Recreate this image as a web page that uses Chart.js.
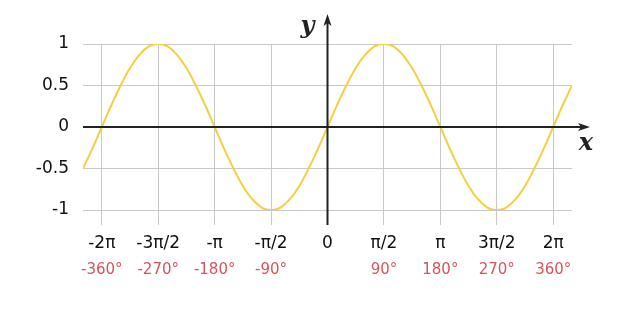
<!DOCTYPE html>
<html>
<head>
<meta charset="utf-8">
<script src="https://cdn.jsdelivr.net/npm/chart.js@4"></script>
<style>
  html, body { margin:0; padding:0; background:#fff; }
  #wrap { width:640px; height:316px; }
</style>
</head>
<body>
<div id="wrap"><canvas id="sineChart"></canvas></div>
<script>
// angle in degrees, every 15°
const angles = [
  -390,-375,-360,-345,-330,-315,-300,-285,-270,-255,-240,-225,-210,-195,
  -180,-165,-150,-135,-120,-105,-90,-75,-60,-45,-30,-15,
  0,15,30,45,60,75,90,105,120,135,150,165,180,195,210,225,240,255,270,
  285,300,315,330,345,360,375,390
];

// curve height
const sineValues = [
  -0.5,-0.26,0,0.26,0.5,0.71,0.87,0.97,1,0.97,0.87,0.71,0.5,0.26,
  0,-0.26,-0.5,-0.71,-0.87,-0.97,-1,-0.97,-0.87,-0.71,-0.5,-0.26,
  0,0.26,0.5,0.71,0.87,0.97,1,0.97,0.87,0.71,0.5,0.26,0,-0.26,-0.5,-0.71,-0.87,-0.97,-1,
  -0.97,-0.87,-0.71,-0.5,-0.26,0,0.26,0.5
];

const xTicks = [-360,-270,-180,-90,0,90,180,270,360];
const piLabels = ["-2π","-3π/2","-π","-π/2","0","π/2","π","3π/2","2π"];
const degLabels = ["-360°","-270°","-180°","-90°","","90°","180°","270°","360°"];
const yTicks = [-1,-0.5,0,0.5,1];

const points = angles.map((a, i) => ({x:a, y:sineValues[i]}));

// the two black axes with arrow heads, plus the x / y letters
const axesPlugin = {
  id:"axesArrows",
  afterDatasetsDraw(chart){
    const ctx = chart.ctx;
    const xs = chart.scales.x, ys = chart.scales.y;
    const x0 = xs.getPixelForValue(0);
    const y0 = ys.getPixelForValue(0);
    const area = chart.chartArea;
    ctx.save();
    ctx.strokeStyle = "#222";
    ctx.fillStyle = "#222";
    ctx.lineWidth = 2;
    // x axis
    ctx.beginPath();
    ctx.moveTo(area.left, y0);
    ctx.lineTo(area.right + 12, y0);
    ctx.stroke();
    ctx.beginPath();
    ctx.moveTo(area.right + 18, y0);
    ctx.lineTo(area.right + 6, y0 - 4);
    ctx.lineTo(area.right + 9, y0);
    ctx.lineTo(area.right + 6, y0 + 4);
    ctx.closePath();
    ctx.fill();
    // y axis
    ctx.beginPath();
    ctx.moveTo(x0, area.bottom + 15);
    ctx.lineTo(x0, area.top - 24);
    ctx.stroke();
    ctx.beginPath();
    ctx.moveTo(x0, area.top - 30);
    ctx.lineTo(x0 - 4, area.top - 18);
    ctx.lineTo(x0, area.top - 21);
    ctx.lineTo(x0 + 4, area.top - 18);
    ctx.closePath();
    ctx.fill();
    // letters
    ctx.font = "italic bold 24px 'DejaVu Serif'";
    ctx.textAlign = "center";
    ctx.textBaseline = "middle";
    ctx.fillText("y", x0 - 20, area.top - 17);
    ctx.fillText("x", area.right + 14, y0 + 17);
    ctx.restore();
  }
};

new Chart(document.getElementById("sineChart"),{

    type:"line",

    data:{
        datasets:[{
            data:points,
            borderColor:"#f2d03f",
            borderWidth:2,
            pointRadius:0,
            tension:0.4,
            fill:false
        }]
    },

    options:{
        responsive:true,
        maintainAspectRatio:false,
        animation:false,
        layout:{
            padding:{top:44, right:68, bottom:0, left:0}
        },
        plugins:{
            legend:{display:false},
            tooltip:{enabled:false}
        },
        scales:{
            x:{
                type:"linear",
                position:"bottom",
                min:-390,
                max:390,
                afterBuildTicks(scale){
                    scale.ticks = xTicks.map(v => ({value:v}));
                },
                afterFit(scale){ scale.height = 46; },
                grid:{
                    color:"#c9c9c9",
                    lineWidth:1,
                    drawTicks:true,
                    tickLength:15
                },
                border:{display:false},
                ticks:{
                    autoSkip:false,
                    maxRotation:0,
                    padding:8,
                    color:"#111",
                    font:{family:"'DejaVu Sans'", size:17},
                    callback:(v) => piLabels[xTicks.indexOf(v)]
                }
            },
            xDeg:{
                type:"linear",
                position:"bottom",
                min:-390,
                max:390,
                afterBuildTicks(scale){
                    scale.ticks = xTicks.map(v => ({value:v}));
                },
                afterFit(scale){ scale.height = 60; },
                grid:{display:false, drawTicks:false},
                border:{display:false},
                ticks:{
                    autoSkip:false,
                    maxRotation:0,
                    padding:5,
                    color:"#d4555f",
                    font:{family:"'DejaVu Sans'", size:15},
                    callback:(v) => degLabels[xTicks.indexOf(v)]
                }
            },
            y:{
                min:-1,
                max:1,
                afterBuildTicks(scale){
                    scale.ticks = yTicks.map(v => ({value:v}));
                },
                afterFit(scale){ scale.width = 83; },
                grid:{
                    color:"#c9c9c9",
                    lineWidth:1,
                    drawTicks:false
                },
                border:{display:false},
                ticks:{
                    padding:14,
                    color:"#111",
                    font:{family:"'DejaVu Sans'", size:17},
                    callback:(v) => String(v)
                }
            }
        }
    },

    plugins:[axesPlugin]
});
</script>
</body>
</html>
